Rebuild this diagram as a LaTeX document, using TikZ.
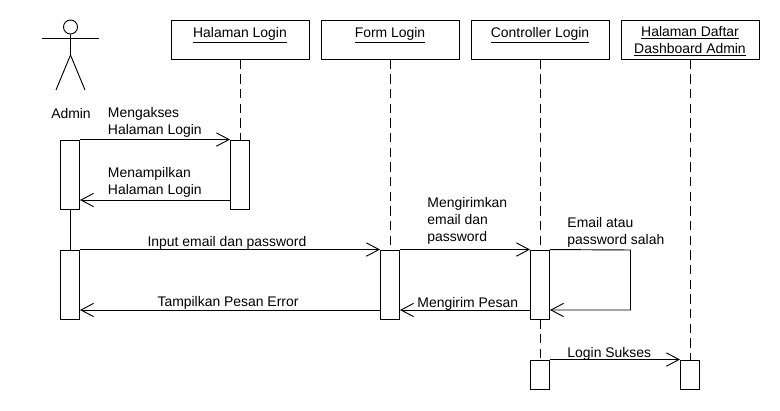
\documentclass[tikz,border=0pt]{standalone}
\usepackage{fontspec}
\setmainfont{Liberation Sans}
\usetikzlibrary{arrows.meta, positioning}

\newcommand{\headtext}[1]{\raisebox{-0.75pt}[\height][\depth]{\underline{#1}}}

\tikzset{
    lifehead/.style={draw, minimum width=103.5pt, minimum height=29pt, inner sep=0pt, align=center},
    activation/.style={draw, fill=white, minimum width=14.25pt, inner sep=0pt},
    lifeline/.style={dashed, dash pattern=on 7pt off 4pt},
    msg/.style={-{Straight Barb[length=9.5pt,width=10pt]}},
    msgtext/.style={inner sep=0pt, align=left, anchor=west, text depth=0pt}
}

\begin{document}
\begin{tikzpicture}[x=0.75pt,y=-0.75pt,line width=0.7pt,node distance=112.5pt,on grid,
        every node/.append style={font=\fontsize{10.45}{12.75}\selectfont}]
        \useasboundingbox (0,0) rectangle (780,410);

        % actor
        \node[draw, circle, minimum size=10.5pt, inner sep=0pt] (actor_head) at (70.5,27) {};
        \coordinate (arm_l) at (42,38);
        \coordinate (arm_r) at (99,38);
        \coordinate (hip) at (70.5,55);
        \coordinate (leg_l) at (56,90);
        \coordinate (leg_r) at (85,90);
        \draw (actor_head) -- (hip) -- (leg_l);
        \draw (hip) -- (leg_r);
        \draw (arm_l) -- (arm_r);
        \node[inner sep=0pt] (admin) at (71,113.5) {Admin};

        % heads
        \node[lifehead] (h_login) at (240,40) {\headtext{Halaman Login}\\~};
        \node[lifehead] (h_form) [right=of h_login] {\headtext{Form Login}\\~};
        \node[lifehead] (h_ctrl) [right=of h_form] {\headtext{Controller Login}\\~};
        \node[lifehead] (h_daftar) [right=of h_ctrl] {\headtext{Halaman Daftar}\\\headtext{Dashboard Admin}};

        % activations
        \node[activation, minimum height=51.75pt] (a_admin1) at (70,174.5) {};
        \node[activation, minimum height=51.75pt] (a_login) at (240,174.5) {};
        \node[activation, minimum height=51.75pt] (a_admin2) at (70,284.5) {};
        \node[activation, minimum height=51.75pt] (a_form) at (390,284.5) {};
        \node[activation, minimum height=51.75pt] (a_ctrl1) at (540,284.5) {};
        \node[activation, minimum height=21.75pt] (a_ctrl2) at (540,374.5) {};
        \node[activation, minimum height=21.75pt] (a_daftar) at (690,374.5) {};

        % lifelines
        \draw (a_admin1) -- (a_admin2);
        \draw[lifeline] (h_login) -- (a_login);
        \draw[lifeline] (h_form) -- (a_form);
        \draw[lifeline] (h_ctrl) -- (a_ctrl1);
        \draw[lifeline] (a_ctrl1) -- (a_ctrl2);
        \draw[lifeline] (h_daftar) -- (a_daftar);

        % messages
        \coordinate (y_back) at (0,200);
        \coordinate (y_error) at (0,310);
        \coordinate (loop_a) at (630.5,250);
        \coordinate (loop_b) at (630.5,310);

        \draw[msg] (a_admin1.north east) -- (a_login.north west);
        \draw[msg] (a_login.west |- y_back) -- (a_admin1.east |- y_back);
        \draw[msg] (a_admin2.north east) -- (a_form.north west);
        \draw[msg] (a_form.north east) -- (a_ctrl1.north west);
        \draw[msg] (a_ctrl1.north east) -- (loop_a) -- (loop_b) -- (a_ctrl1.east |- y_error);
        \draw[msg] (a_ctrl1.west |- y_error) -- (a_form.east |- y_error);
        \draw[msg] (a_form.west |- y_error) -- (a_admin2.east |- y_error);
        \draw[msg] (a_ctrl2.north east) -- (a_daftar.north west);

        % labels
        \node[msgtext] (t_akses) at (107.5,121) {Mengakses\\Halaman Login};
        \node[msgtext] (t_tampil) at (107.5,181) {Menampilkan\\Halaman Login};
        \node[inner sep=0pt] (t_input) at (227,242.5) {Input email dan password};
        \node[inner sep=0pt] (t_error) at (228,302.5) {Tampilkan Pesan Error};
        \node[msgtext] (t_pesan) at (417,302.5) {Mengirim Pesan};
        \node[msgtext] (t_kirim) at (427,219.5) {Mengirimkan\\email dan\\password};
        \node[msgtext] (t_salah) at (567,231) {Email atau\\password salah};
        \node[msgtext] (t_sukses) at (567,352.5) {Login Sukses};
\end{tikzpicture}
\end{document}
